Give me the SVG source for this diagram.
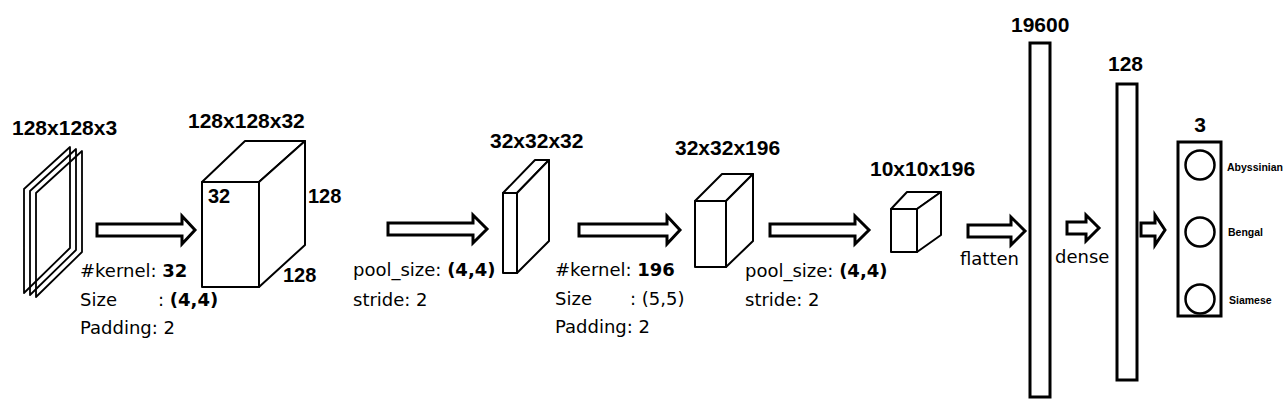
<svg xmlns="http://www.w3.org/2000/svg" width="1284" height="410" viewBox="0 0 1284 410">
<style>
.bg{fill:#fff}
.cb{fill:#fff;stroke:#000;stroke-width:2;stroke-linejoin:round}
.pl{fill:none;stroke:#000;stroke-width:1.8;stroke-linejoin:round}
.ar{fill:#fff;stroke:#000;stroke-width:3;stroke-linejoin:miter}
.bar{fill:#fff;stroke:#000;stroke-width:3}
.cir{fill:#fff;stroke:#000;stroke-width:2.5}
.t{font-family:"Liberation Sans",Arial,sans-serif;font-weight:bold;font-size:21px;fill:#000}
.l{font-family:"DejaVu Sans","Liberation Sans",sans-serif;font-size:18px;fill:#000}
.b{font-weight:bold}
.s{font-family:"Liberation Sans",Arial,sans-serif;font-weight:bold;font-size:10.5px;fill:#000}
</style>
<rect class="bg" x="0" y="0" width="1284" height="410"/>

<g id="input">
  <polygon class="pl" points="24,189 70,147 70,248 24,293"/>
  <polygon class="pl" points="30,191 76,149 76,250 30,295"/>
  <polygon class="pl" points="36,193 82,151 82,252 36,297"/>
  <text class="t" x="12" y="135">128x128x3</text>
</g>

<g id="conv1">
  <rect class="cb" x="202" y="182" width="57" height="105"/>
  <polygon class="cb" points="202,182 245,141 305,141 259,182"/>
  <polygon class="cb" points="259,182 305,141 305,245 259,287"/>
  <text class="t" x="188" y="128">128x128x32</text>
  <text class="t" x="208" y="203" style="font-size:20px">32</text>
  <text class="t" x="308" y="203" style="font-size:20px">128</text>
  <text class="t" x="283" y="282" style="font-size:20px">128</text>
</g>

<g id="pool1">
  <rect class="cb" x="503" y="193" width="14" height="80"/>
  <polygon class="cb" points="503,193 535,160 549,160 517,193"/>
  <polygon class="cb" points="517,193 549,160 549,241 517,273"/>
  <text class="t" x="490" y="148">32x32x32</text>
</g>

<g id="conv2">
  <rect class="cb" x="695" y="201" width="31" height="66"/>
  <polygon class="cb" points="695,201 722,174 753,174 726,201"/>
  <polygon class="cb" points="726,201 753,174 753,241 726,267"/>
  <text class="t" x="675" y="155">32x32x196</text>
</g>

<g id="pool2">
  <rect class="cb" x="891" y="209" width="26" height="43"/>
  <polygon class="cb" points="891,209 907,192 941,192 917,209"/>
  <polygon class="cb" points="917,209 941,192 941,235 917,252"/>
  <text class="t" x="870" y="176">10x10x196</text>
</g>

<g id="flatten">
  <rect class="bar" x="1030" y="43" width="20" height="354"/>
  <text class="t" x="1011" y="32">19600</text>
</g>

<g id="dense">
  <rect class="bar" x="1117" y="84" width="20" height="296"/>
  <text class="t" x="1108" y="71">128</text>
</g>

<g id="output">
  <rect class="bar" x="1178" y="142" width="43" height="174"/>
  <circle class="cir" cx="1200" cy="165" r="14.5"/>
  <circle class="cir" cx="1200" cy="232" r="14.5"/>
  <circle class="cir" cx="1200" cy="299" r="14.5"/>
  <text class="t" x="1200" y="132" text-anchor="middle">3</text>
  <text class="s" x="1227" y="171">Abyssinian</text>
  <text class="s" x="1228" y="236">Bengal</text>
  <text class="s" x="1229" y="304">Siamese</text>
</g>

<g id="connectors">
  <path class="ar" d="M97,224 H182 V216 L195,230 L182,244 V236 H97 Z"/>
  <path class="ar" d="M388,223 H473 V215 L487,229 L473,243 V235 H388 Z"/>
  <path class="ar" d="M579,224 H667 V216 L680,230 L667,244 V236 H579 Z"/>
  <path class="ar" d="M770,224 H855 V216 L869,230 L855,244 V236 H770 Z"/>
  <path class="ar" d="M968,225 H1011 V217 L1025,231 L1011,245 V237 H968 Z"/>
  <path class="ar" d="M1067,222 H1086 V215 L1099,228 L1086,241 V234 H1067 Z"/>
  <path class="ar" d="M1141,223 H1155 V215 L1165,230 L1155,245 V236 H1141 Z"/>

  <text class="l" x="80" y="277">#kernel: <tspan class="b">32</tspan></text>
  <text class="l" x="80" y="306">Size<tspan x="158">: </tspan><tspan class="b">(4,4)</tspan></text>
  <text class="l" x="80" y="334">Padding: 2</text>

  <text class="l" x="353" y="276">pool_size: <tspan class="b">(4,4)</tspan></text>
  <text class="l" x="353" y="306">stride: 2</text>

  <text class="l" x="555" y="276">#kernel: <tspan class="b">196</tspan></text>
  <text class="l" x="555" y="305">Size<tspan x="630">: (5,5)</tspan></text>
  <text class="l" x="555" y="333">Padding: 2</text>

  <text class="l" x="745" y="277">pool_size: <tspan class="b">(4,4)</tspan></text>
  <text class="l" x="745" y="306">stride: 2</text>

  <text class="l" x="960" y="265">flatten</text>
  <text class="l" x="1055" y="263">dense</text>
</g>
</svg>
